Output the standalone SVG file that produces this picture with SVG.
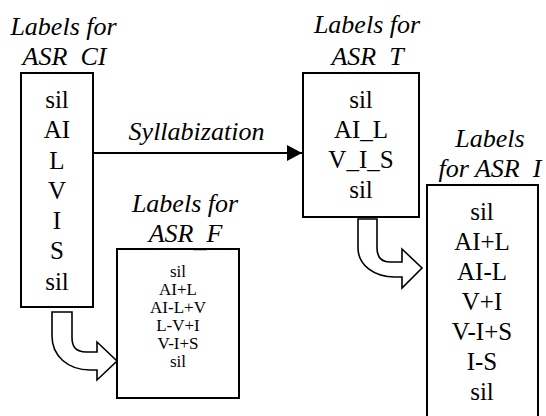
<svg xmlns="http://www.w3.org/2000/svg" width="546" height="416" viewBox="0 0 546 416">
<style>
.box{fill:#fff;stroke:#000;stroke-width:2}
.t{font-family:"Liberation Serif","Times New Roman",serif;font-size:25px;text-anchor:middle;fill:#000}
.s{font-family:"Liberation Serif","Times New Roman",serif;font-size:17px;text-anchor:middle;fill:#000}
.h{font-family:"Liberation Serif","Times New Roman",serif;font-size:26px;font-style:italic;text-anchor:middle;fill:#000}
.ba{fill:#fff;stroke:#000;stroke-width:1.6;stroke-linejoin:miter}
</style>
<defs>
<marker id="ah" markerWidth="16" markerHeight="16" refX="15" refY="8" orient="auto" markerUnits="userSpaceOnUse">
<path d="M0,0 L15,8 L0,16 Z" fill="#000"/>
</marker>
</defs>
<rect width="546" height="416" fill="#fff"/>
<g id="node-ci">
<text class="h" x="63.5" y="35">Labels for</text>
<rect class="box" x="21" y="73" width="72" height="234"/>
<text class="h" x="64.5" y="65">ASR<tspan dy="5">_</tspan><tspan dy="-5">CI</tspan></text>
<text class="t" x="57" y="108">sil</text>
<text class="t" x="57" y="138">AI</text>
<text class="t" x="57" y="169">L</text>
<text class="t" x="57" y="199">V</text>
<text class="t" x="57" y="229">I</text>
<text class="t" x="57" y="259">S</text>
<text class="t" x="57" y="290">sil</text>
</g>
<g id="node-t">
<text class="h" x="367" y="33">Labels for</text>
<rect class="box" x="303" y="73" width="116" height="144"/>
<text class="h" x="367.5" y="65">ASR<tspan dy="5">_</tspan><tspan dy="-5">T</tspan></text>
<text class="t" x="361" y="108">sil</text>
<text class="t" x="361" y="138">AI_L</text>
<text class="t" x="361" y="168">V_I_S</text>
<text class="t" x="361" y="198">sil</text>
</g>
<g id="node-i">
<text class="h" x="490" y="147">Labels</text>
<rect class="box" x="427" y="185" width="111" height="240"/>
<text class="h" x="490" y="177">for ASR<tspan dy="5">_</tspan><tspan dy="-5">I</tspan></text>
<text class="t" x="482" y="220">sil</text>
<text class="t" x="482" y="250">AI+L</text>
<text class="t" x="482" y="280">AI-L</text>
<text class="t" x="482" y="310">V+I</text>
<text class="t" x="482" y="340">V-I+S</text>
<text class="t" x="482" y="370">I-S</text>
<text class="t" x="482" y="400">sil</text>
</g>
<g id="node-f">
<text class="h" x="185" y="212">Labels for</text>
<rect class="box" x="117" y="249" width="122" height="149"/>
<text class="h" x="185.5" y="242">ASR<tspan dy="5">_</tspan><tspan dy="-5">F</tspan></text>
<text class="s" x="178" y="277">sil</text>
<text class="s" x="178" y="295">AI+L</text>
<text class="s" x="178" y="313">AI-L+V</text>
<text class="s" x="178" y="331">L-V+I</text>
<text class="s" x="178" y="349">V-I+S</text>
<text class="s" x="178" y="367">sil</text>
</g>
<g id="connectors">
<line x1="93" y1="153" x2="302" y2="153" stroke="#000" stroke-width="2" marker-end="url(#ah)"/>
<text class="h" x="196.5" y="140">Syllabization</text>
<path class="ba" d="M52,312 L72,312 L72,338 C72,347 77,352 86,352 L97,352 L97,342 L117,361 L97,380 L97,370 L90,370 C68,370 52,356 52,336 Z"/>
<path class="ba" d="M358,219 L377,219 L377,248 C377,257 381,262 390,262 L402,262 L402,249 L422,268 L402,288 L402,277 L395,277 C374,277 358,265 358,248 Z"/>
</g>
</svg>
